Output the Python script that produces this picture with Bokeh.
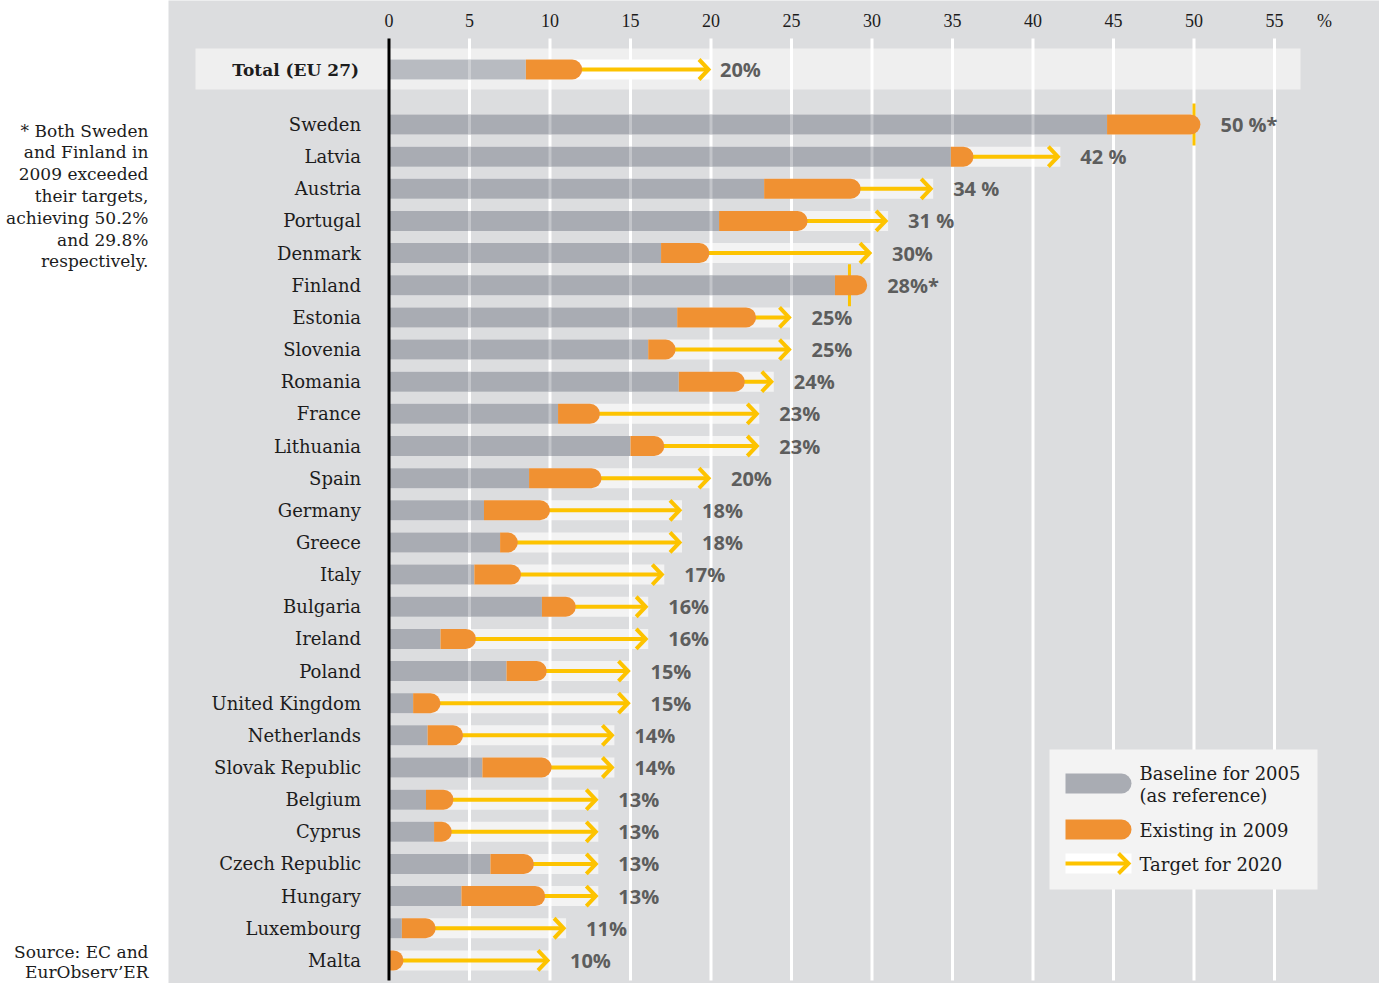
from bokeh.plotting import figure
from bokeh.models import Range1d
from bokeh.core.properties import value
from bokeh.embed import file_html
from bokeh.resources import INLINE

# ---------------- data ----------------
countries = ["Sweden", "Latvia", "Austria", "Portugal", "Denmark", "Finland",
             "Estonia", "Slovenia", "Romania", "France", "Lithuania", "Spain",
             "Germany", "Greece", "Italy", "Bulgaria", "Ireland", "Poland",
             "United Kingdom", "Netherlands", "Slovak Republic", "Belgium",
             "Cyprus", "Czech Republic", "Hungary", "Luxembourg", "Malta"]
baseline_2005 = [44.6, 34.9, 23.3, 20.5, 16.9, 27.7, 17.9, 16.1, 18.0, 10.5,
                 15.0, 8.7, 5.9, 6.9, 5.3, 9.5, 3.2, 7.3, 1.5, 2.4, 5.8, 2.3,
                 2.8, 6.3, 4.5, 0.8, 0.0]
existing_2009 = [50.4, 36.3, 29.3, 26.0, 19.9, 29.7, 22.8, 17.8, 22.1, 13.1,
                 17.1, 13.2, 10.0, 8.0, 8.2, 11.6, 5.4, 9.8, 3.2, 4.6, 10.1,
                 4.0, 3.9, 9.0, 9.7, 2.9, 0.9]
target_2020 = [50.0, 41.7, 33.8, 31.0, 30.0, 28.6, 25.0, 25.0, 23.9, 23.0,
               23.0, 20.0, 18.2, 18.2, 17.1, 16.1, 16.1, 15.0, 15.0, 14.0,
               14.0, 13.0, 13.0, 13.0, 13.0, 11.0, 10.0]
target_labels = ["50 %*", "42 %", "34 %", "31 %", "30%", "28%*", "25%", "25%",
                 "24%", "23%", "23%", "20%", "18%", "18%", "17%", "16%", "16%",
                 "15%", "15%", "14%", "14%", "13%", "13%", "13%", "13%", "11%",
                 "10%"]
total_name = "Total (EU 27)"
total_baseline = 8.5
total_existing = 12.0
total_target = 20.0
total_label = "20%"
tick_values = [0, 5, 10, 15, 20, 25, 30, 35, 40, 45, 50, 55]
tick_labels = [str(t) for t in tick_values]
unit_label = "%"
legend_labels = ["Baseline for 2005\n(as reference)", "Existing in 2009", "Target for 2020"]
note_text = "* Both Sweden\nand Finland in\n2009 exceeded\ntheir targets,\nachieving 50.2%\nand 29.8%\nrespectively."
source_text = "Source: EC and\nEurObserv\u2019ER"

# ---------------- geometry helpers ----------------
W, H = 1379, 983
OFF = 0               # picture px of canvas origin
PXX = 16.1            # px per percent
X0 = 388.5            # px of 0 %
PXY = 32.15           # px per row
Y0 = 124              # px of first row


def hx(px):
    return (px - OFF - X0) / PXX


def vy(py):
    return (py - OFF - Y0) / PXY


def dx(px):
    return px / PXX


def dy(py):
    return py / PXY


BG = "#DCDDDF"
BAND = "#F3F3F3"
TOTBAND = "#EFEFEF"
GREY = "#A9ACB3"
TOTGREY = "#B8BBC1"
ORANGE = "#F09132"
YELLOW = "#FDC300"
LABEL = "#5D5D5D"
TEXT = "#1C1C1C"
SERIF = value("DejaVu Serif")
SANS = value("Open Sans")

p = figure(width=W, height=H, x_range=Range1d(hx(OFF), hx(OFF + W)),
           y_range=Range1d(vy(OFF + H), vy(OFF)), output_backend="svg",
           toolbar_location=None, x_axis_location=None, y_axis_location=None,
           min_border=0, outline_line_color=None,
           background_fill_color="white", border_fill_color="white")
p.grid.visible = False

rows = list(range(len(countries)))
ty = vy(69)
hh = dy(10)

# background grey panel
p.quad(left=[hx(168)], right=[hx(OFF + W) + 2], top=[vy(-5)], bottom=[vy(1010)],
       fill_color=BG, line_color=None)
# total band
p.quad(left=[hx(195)], right=[hx(1300)], top=[vy(48)], bottom=[vy(89)],
       fill_color=TOTBAND, line_color=None)

# light target bands
p.quad(left=[0] * len(rows), right=target_2020,
       top=[r - hh for r in rows], bottom=[r + hh for r in rows],
       fill_color=BAND, line_color=None)
p.quad(left=[0], right=[total_target], top=[ty - hh], bottom=[ty + hh],
       fill_color="white", line_color=None)

# grid lines
grid_x = tick_values[1:]
p.segment(x0=grid_x, y0=[vy(38)] * len(grid_x), x1=grid_x, y1=[vy(980)] * len(grid_x),
          line_color="white", line_width=3)

# grey baseline bars
p.quad(left=[0] * len(rows), right=baseline_2005,
       top=[r - hh for r in rows], bottom=[r + hh for r in rows],
       fill_color=GREY, line_color=None)
p.quad(left=[0], right=[total_baseline], top=[ty - hh], bottom=[ty + hh],
       fill_color=TOTGREY, line_color=None)

# faint grid through grey bars
ox, oy0, oy1 = [], [], []
for r, b in zip(rows + [ty], baseline_2005 + [total_baseline]):
    for g in grid_x:
        if g < b - 0.1:
            ox.append(g)
            oy0.append(r - hh)
            oy1.append(r + hh)
p.segment(x0=ox, y0=oy0, x1=ox, y1=oy1, line_color="white", line_alpha=0.3, line_width=3)

# target markers where already exceeded
ex_rows = [r for r in rows if existing_2009[r] >= target_2020[r]]
ex_t = [target_2020[r] for r in ex_rows]
p.segment(x0=ex_t, y0=[r - dy(21) for r in ex_rows], x1=ex_t, y1=[r + dy(21) for r in ex_rows],
          line_color=YELLOW, line_width=3)

# arrows
ar_rows = [r for r in rows if existing_2009[r] < target_2020[r]]
ar_y = [r for r in ar_rows] + [ty]
ar_s = [existing_2009[r] for r in ar_rows] + [total_existing]
ar_t = [target_2020[r] for r in ar_rows] + [total_target]
p.segment(x0=[s - dx(6) for s in ar_s], y0=ar_y, x1=[t - dx(2.5) for t in ar_t], y1=ar_y,
          line_color=YELLOW, line_width=4)
p.multi_line(xs=[[t - dx(12), t - dx(2.5), t - dx(12)] for t in ar_t],
             ys=[[y - dy(10), y, y + dy(10)] for y in ar_y],
             line_color=YELLOW, line_width=4, line_join="miter")

# orange bars (rounded right end)
p.quad(left=baseline_2005, right=existing_2009,
       top=[r - hh for r in rows], bottom=[r + hh for r in rows],
       fill_color=ORANGE, line_color=None, border_radius=(0, 10, 10, 0))
p.quad(left=[total_baseline], right=[total_existing], top=[ty - hh], bottom=[ty + hh],
       fill_color=ORANGE, line_color=None, border_radius=(0, 10, 10, 0))

# zero axis
p.segment(x0=[0], y0=[vy(38)], x1=[0], y1=[vy(980)], line_color="black", line_width=3)

# country labels
p.text(x=[0] * len(rows), y=rows, text=countries, x_offset=-28,
       text_align="right", text_baseline="middle", text_font=SERIF,
       text_font_size="18px", text_color=TEXT)
p.text(x=[0], y=[ty], text=[total_name], x_offset=-30, text_align="right",
       text_baseline="middle", text_font=SERIF, text_font_size="17px",
       text_font_style="bold", text_color=TEXT)

# value labels
p.text(x=[max(t, e) for t, e in zip(target_2020, existing_2009)], y=rows,
       text=target_labels, x_offset=20, text_align="left", text_baseline="middle",
       text_font=SANS, text_font_size="20px", text_font_style="bold", text_color=LABEL)
p.text(x=[total_target], y=[ty], text=[total_label], x_offset=9, text_align="left",
       text_baseline="middle", text_font=SANS, text_font_size="20px",
       text_font_style="bold", text_color=LABEL)

# tick labels
p.text(x=tick_values, y=[vy(20)] * len(tick_values), text=tick_labels,
       text_align="center", text_baseline="middle", text_font=value("Liberation Serif"),
       text_font_size="18px", text_color=TEXT)
p.text(x=[hx(1324)], y=[vy(20)], text=[unit_label], text_align="center",
       text_baseline="middle", text_font=value("Liberation Serif"),
       text_font_size="18px", text_color=TEXT)

# notes
p.text(x=[hx(148)], y=[vy(120)], text=[note_text], text_align="right",
       text_baseline="top", text_font=SERIF, text_font_size="17px",
       text_line_height=1.09, text_color=TEXT)
p.text(x=[hx(148)], y=[vy(941)], text=[source_text], text_align="right",
       text_baseline="top", text_font=SERIF, text_font_size="17px",
       text_line_height=1.02, text_color=TEXT)

# legend
p.quad(left=[hx(1049)], right=[hx(1317)], top=[vy(749)], bottom=[vy(889)],
       fill_color="#F3F3F3", line_color=None)
p.quad(left=[hx(1065)], right=[hx(1131)], top=[vy(783) - hh], bottom=[vy(783) + hh],
       fill_color=GREY, line_color=None, border_radius=(0, 10, 10, 0))
p.quad(left=[hx(1065)], right=[hx(1131)], top=[vy(829) - hh], bottom=[vy(829) + hh],
       fill_color=ORANGE, line_color=None, border_radius=(0, 10, 10, 0))
p.quad(left=[hx(1065)], right=[hx(1131)], top=[vy(863) - hh], bottom=[vy(863) + hh],
       fill_color="white", line_color=None)
p.segment(x0=[hx(1065)], y0=[vy(863)], x1=[hx(1128)], y1=[vy(863)],
          line_color=YELLOW, line_width=4)
p.multi_line(xs=[[hx(1118), hx(1128), hx(1118)]], ys=[[vy(853), vy(863), vy(873)]],
             line_color=YELLOW, line_width=4, line_join="miter")
p.text(x=[hx(1139)] * 3, y=[vy(762), vy(830), vy(864)], text=legend_labels,
       text_align="left", text_baseline=["top", "middle", "middle"],
       text_font=SERIF, text_font_size="18px", text_line_height=1.05, text_color=TEXT)

open("out.html", "w").write(file_html(p, INLINE))
